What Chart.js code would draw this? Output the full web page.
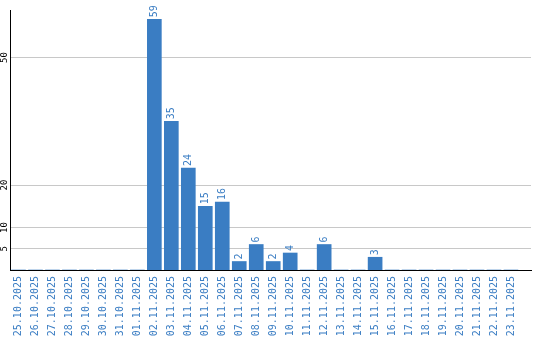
<!DOCTYPE html>
<html lang="en">
<head>
    <meta charset="UTF-8">
    <title>Daily counts</title>
    <script src="https://cdn.jsdelivr.net/npm/chart.js@4.4.1/dist/chart.umd.min.js"></script>
    <style>
        html, body { margin: 0; padding: 0; background: #fff; }
        canvas { display: block; }
    </style>
</head>
<body>
    <canvas id="myChart" width="540" height="340"></canvas>
<script>
    // dates shown on the x axis
    const dates = [
        '25.10.2025', '26.10.2025', '27.10.2025', '28.10.2025', '29.10.2025',
        '30.10.2025', '31.10.2025', '01.11.2025', '02.11.2025', '03.11.2025',
        '04.11.2025', '05.11.2025', '06.11.2025', '07.11.2025', '08.11.2025',
        '09.11.2025', '10.11.2025', '11.11.2025', '12.11.2025', '13.11.2025',
        '14.11.2025', '15.11.2025', '16.11.2025', '17.11.2025', '18.11.2025',
        '19.11.2025', '20.11.2025', '21.11.2025', '22.11.2025', '23.11.2025'
    ];
    // value per day
    const counts = [
        0, 0, 0, 0, 0, 0, 0, 0, 59, 35,
        24, 15, 16, 2, 6, 2, 4, 0, 6, 0,
        0, 3, 0, 0, 0, 0, 0, 0, 0, 0
    ];
    // the y axis only marks these values
    const yTicks = [5, 10, 20, 50];

    const blue = '#3a7dc3';
    const mono = 'DejaVu Sans Mono';

    // write the value above each bar, turned on its side
    const barValues = {
        id: 'barValues',
        afterDatasetsDraw(chart) {
            const ctx = chart.ctx;
            const meta = chart.getDatasetMeta(0);
            ctx.save();
            ctx.fillStyle = blue;
            ctx.font = '10px "' + mono + '"';
            ctx.textAlign = 'left';
            ctx.textBaseline = 'middle';
            meta.data.forEach((bar, i) => {
                if (!counts[i]) return;
                ctx.save();
                ctx.translate(bar.x, bar.y - 2);
                ctx.rotate(-Math.PI / 2);
                ctx.fillText(String(counts[i]), 0, 0);
                ctx.restore();
            });
            ctx.restore();
        }
    };

    const ctx = document.getElementById('myChart').getContext('2d');
    new Chart(ctx, {
        type: 'bar',
        data: {
            datasets: [{
                data: counts.map((v, i) => ({ x: i, y: v })),
                backgroundColor: blue,
                borderWidth: 0,
                barThickness: 14
            }]
        },
        options: {
            responsive: false,
            animation: false,
            layout: { padding: { top: 10, right: 9, left: 0, bottom: 0 } },
            plugins: {
                legend: { display: false },
                tooltip: { enabled: false }
            },
            scales: {
                x: {
                    type: 'linear',
                    offset: false,
                    min: -0.5,
                    max: 30.18,
                    afterBuildTicks: scale => {
                        scale.ticks = dates.map((d, i) => ({ value: i }));
                    },
                    afterFit: scale => { scale.height = 70; },
                    grid: { display: false, drawTicks: false },
                    border: { color: '#000', width: 1 },
                    ticks: {
                        autoSkip: false,
                        minRotation: 90,
                        maxRotation: 90,
                        padding: 6,
                        color: blue,
                        font: { family: mono, size: 10 },
                        callback: value => dates[value] || ''
                    }
                },
                y: {
                    min: 0,
                    max: 61.2,
                    afterBuildTicks: scale => {
                        scale.ticks = yTicks.map(v => ({ value: v }));
                    },
                    afterFit: scale => { scale.width = 10; },
                    grid: { color: '#c8c8c8', drawTicks: false },
                    border: { color: '#000', width: 1 },
                    ticks: {
                        minRotation: 90,
                        maxRotation: 90,
                        padding: 0,
                        crossAlign: 'center',
                        color: '#000',
                        font: { family: mono, size: 9 }
                    }
                }
            }
        },
        plugins: [barValues]
    });
</script>
</body>
</html>
